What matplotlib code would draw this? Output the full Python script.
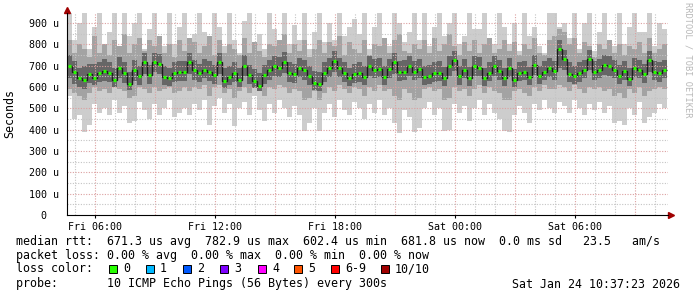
import matplotlib
matplotlib.use("Agg")
import matplotlib.pyplot as plt
from matplotlib.patches import Rectangle
import numpy as np

plt.rcParams["font.family"] = ["DejaVu Sans Mono"]

W, H = 697, 297

# time axis: hours since Fri 00:00, one column per 15 minutes
t_start = 4.6
t_step = 0.25

# median rtt per column (microseconds)
median_us = [
    700, 670, 640, 635, 660, 640, 665, 675, 668, 635,
    690, 665, 615, 678, 650, 718, 655, 715, 710, 645,
    640, 665, 670, 670, 715, 678, 665, 680, 672, 655,
    715, 630, 648, 664, 635, 700, 654, 630, 605, 655,
    678, 700, 690, 718, 665, 660, 690, 680, 650, 620,
    615, 665, 690, 722, 690, 665, 640, 660, 665, 648,
    700, 682, 685, 645, 685, 715, 670, 672, 700, 672,
    684, 648, 652, 665, 668, 640, 700, 725, 650, 680,
    640, 698, 690, 640, 668, 700, 675, 640, 690, 633,
    668, 670, 645, 705, 650, 672, 688, 675, 780, 730,
    662, 652, 664, 678, 730, 672, 680, 705, 700, 680,
    650, 675, 638, 690, 678, 660, 725, 672, 665, 678,
]

# smoke: outer range (fastest / slowest ping)
smoke_lo = [
    560, 450, 470, 390, 420, 520, 480, 500, 470, 540,
    480, 510, 430, 440, 530, 490, 450, 520, 470, 500,
    540, 460, 480, 500, 470, 520, 490, 540, 420, 510,
    550, 480, 520, 415, 500, 530, 470, 560, 490, 440,
    520, 480, 540, 500, 460, 510, 470, 395, 430, 500,
    395, 480, 520, 460, 540, 490, 470, 530, 500, 450,
    520, 480, 540, 470, 500, 430, 385, 490, 460, 390,
    410, 500, 530, 470, 500, 395, 400, 520, 480, 510,
    440, 500, 540, 470, 520, 480, 450, 395, 390, 470,
    510, 480, 430, 520, 490, 540, 500, 480, 530, 510,
    480, 540, 500, 470, 520, 490, 530, 480, 510, 430,
    440, 420, 500, 470, 530, 430, 460, 480, 520, 500,
]
smoke_hi = [
    950, 820, 900, 950, 780, 880, 950, 800, 860, 950,
    790, 950, 840, 900, 950, 780, 870, 950, 820, 790,
    950, 800, 880, 950, 830, 850, 950, 860, 800, 950,
    880, 790, 950, 820, 760, 910, 950, 800, 850, 780,
    950, 870, 800, 950, 800, 890, 820, 950, 780, 860,
    950, 810, 900, 820, 950, 840, 880, 920, 850, 950,
    780, 880, 950, 830, 790, 950, 900, 810, 860, 950,
    820, 950, 790, 880, 950, 840, 900, 950, 800, 840,
    950, 870, 870, 950, 820, 800, 950, 880, 800, 900,
    770, 950, 840, 880, 790, 760, 950, 950, 880, 900,
    830, 950, 780, 900, 950, 770, 860, 950, 820, 790,
    950, 800, 880, 950, 860, 860, 950, 790, 900, 870,
]

# smoke: middle pings
smoke_q1 = [
    590, 570, 560, 540, 570, 600, 580, 590, 570, 600,
    590, 580, 550, 560, 600, 590, 570, 600, 580, 590,
    600, 570, 580, 600, 580, 600, 590, 610, 560, 600,
    610, 570, 590, 550, 580, 600, 570, 610, 580, 560,
    600, 590, 610, 600, 570, 590, 580, 540, 550, 580,
    540, 570, 600, 580, 610, 590, 570, 600, 590, 560,
    600, 580, 610, 580, 590, 560, 540, 590, 570, 540,
    550, 590, 600, 580, 590, 540, 550, 600, 580, 590,
    560, 590, 610, 570, 600, 580, 570, 540, 540, 580,
    590, 570, 560, 600, 580, 610, 590, 590, 610, 600,
    580, 610, 590, 570, 600, 590, 600, 580, 590, 560,
    570, 550, 590, 570, 600, 560, 580, 590, 600, 590,
]
smoke_q3 = [
    820, 760, 800, 780, 740, 840, 760, 800, 750, 820,
    790, 850, 760, 800, 830, 770, 820, 790, 840, 760,
    800, 740, 820, 770, 830, 810, 760, 790, 840, 750,
    820, 760, 800, 780, 750, 830, 760, 810, 770, 740,
    800, 790, 820, 850, 760, 800, 770, 820, 740, 780,
    820, 760, 810, 790, 840, 750, 810, 780, 760, 820,
    750, 800, 790, 830, 760, 820, 850, 770, 760, 800,
    780, 820, 760, 830, 770, 800, 850, 790, 750, 810,
    770, 820, 760, 800, 830, 760, 780, 820, 770, 810,
    750, 800, 780, 830, 760, 750, 820, 840, 870, 860,
    800, 830, 760, 810, 790, 740, 800, 780, 820, 760,
    800, 750, 790, 780, 810, 760, 830, 760, 780, 800,
]

# smoke: pings closest to the median
smoke_c1 = [
    640, 615, 600, 590, 620, 610, 625, 630, 625, 600,
    640, 620, 585, 630, 610, 660, 615, 670, 660, 610,
    605, 625, 630, 630, 660, 635, 625, 640, 630, 615,
    660, 595, 610, 625, 600, 650, 615, 595, 580, 615,
    635, 650, 645, 665, 625, 620, 645, 635, 610, 585,
    580, 625, 645, 670, 645, 625, 605, 620, 625, 610,
    650, 640, 645, 610, 640, 660, 630, 635, 650, 635,
    640, 610, 615, 625, 630, 605, 650, 675, 610, 640,
    605, 650, 650, 605, 630, 650, 635, 605, 645, 600,
    630, 635, 610, 655, 615, 635, 645, 635, 690, 680,
    625, 615, 625, 640, 680, 635, 640, 655, 650, 640,
    615, 635, 605, 645, 640, 620, 670, 635, 625, 640,
]
smoke_c3 = [
    750, 720, 690, 700, 710, 710, 715, 730, 715, 690,
    740, 715, 670, 725, 700, 760, 705, 760, 755, 700,
    690, 715, 720, 720, 760, 725, 710, 730, 720, 705,
    760, 690, 700, 715, 690, 750, 705, 685, 665, 705,
    725, 745, 740, 765, 715, 710, 735, 725, 700, 675,
    670, 715, 735, 770, 735, 715, 690, 710, 715, 700,
    745, 730, 735, 700, 730, 760, 720, 725, 745, 720,
    730, 700, 705, 715, 720, 695, 745, 770, 700, 730,
    695, 745, 740, 690, 715, 745, 725, 690, 735, 685,
    715, 720, 695, 750, 700, 720, 735, 720, 820, 775,
    715, 700, 715, 725, 775, 720, 730, 750, 745, 725,
    705, 720, 690, 735, 725, 710, 770, 720, 715, 725,
]

x_ticks = [6, 12, 18, 24, 30]
x_labels = ["Fri 06:00", "Fri 12:00", "Fri 18:00", "Sat 00:00", "Sat 06:00"]
y_ticks = [0, 100, 200, 300, 400, 500, 600, 700, 800, 900]
y_labels = ["0  ", "100 u", "200 u", "300 u", "400 u", "500 u",
            "600 u", "700 u", "800 u", "900 u"]

loss_labels = ["0", "1", "2", "3", "4", "5", "6-9", "10/10"]
loss_colors = ["#26ff00", "#00b8ff", "#0059ff", "#7e00ff",
               "#ff00ff", "#ff5500", "#ff0000", "#a00000"]
loss_x = [109, 146, 183, 220, 258, 294, 331, 381]

legend_rtt = "median rtt:  671.3 us avg  782.9 us max  602.4 us min  681.8 us now  0.0 ms sd   23.5   am/s"
legend_loss = "packet loss: 0.00 % avg  0.00 % max  0.00 % min  0.00 % now"
legend_probe = "probe:       10 ICMP Echo Pings (56 Bytes) every 300s"
stamp = "Sat Jan 24 10:37:23 2026"


def fx(x):
    return x / W


def fy(y):
    return 1 - y / H


fig = plt.figure(figsize=(W / 100, H / 100), dpi=100)
fig.patch.set_facecolor("white")
ax = fig.add_axes([fx(67), fy(215), 601 / W, 202 / H])

t_end = t_start + 601 / 20
y_top = 947
ax.set_xlim(t_start, t_end)
ax.set_ylim(0, y_top)

edges = t_start + t_step * np.arange(len(median_us) + 1)
ax.stairs(smoke_hi, edges, baseline=smoke_lo, fill=True,
          facecolor="#cdcdcd", edgecolor="none", zorder=1)
ax.stairs(smoke_q3, edges, baseline=smoke_q1, fill=True,
          facecolor="#a3a3a3", edgecolor="none", zorder=1.1)
ax.stairs(smoke_c3, edges, baseline=smoke_c1, fill=True,
          facecolor="#666666", edgecolor="none", zorder=1.2)
ax.stairs(median_us, edges, baseline=None, color="#1c1c1c", lw=1.0, zorder=1.3)

# grid on top of the smoke, like rrdtool
for h in np.arange(5, 35):
    major = h % 3 == 0
    ax.axvline(h, color="#dca0a0" if major else "#c4c4c4", lw=0.8,
               ls=(0, (1, 1.4)), zorder=2)
for v in range(50, 950, 50):
    major = v % 100 == 0
    ax.axhline(v, color="#dca0a0" if major else "#c4c4c4", lw=0.8,
               ls=(0, (1, 1.4)), zorder=2)

ax.hlines(median_us, edges[:-1] + 0.03, edges[1:] - 0.03,
          color="#26ff00", lw=2.3, zorder=3)

for s in ["top", "right"]:
    ax.spines[s].set_visible(False)
for s in ["left", "bottom"]:
    ax.spines[s].set_color("black")
    ax.spines[s].set_linewidth(0.8)

# axis arrows
ax.plot([t_start, t_start], [y_top, 962], color="black", lw=0.8, clip_on=False)
ax.plot([t_start], [960], marker="^", color="#a00000", ms=4, clip_on=False)
ax.plot([t_end, t_end + 0.15], [0, 0], color="black", lw=0.8, clip_on=False)
ax.plot([t_end + 0.15], [0], marker=">", color="#a00000", ms=4, clip_on=False)

ax.set_xticks(x_ticks)
ax.set_xticklabels(x_labels, fontsize=7.2)
ax.set_yticks(y_ticks)
ax.set_yticklabels(y_labels, fontsize=7.2)
ax.tick_params(axis="x", length=2, pad=3, colors="black")
ax.tick_params(axis="y", length=0, pad=5.8)

fig.text(fx(10), fy(114), "Seconds", rotation=90, ha="center", va="center",
         fontsize=8.4)
fig.text(fx(688), fy(60), "RRDTOOL / TOBI OETIKER", rotation=270,
         ha="center", va="center", fontsize=6.2, color="#b8b8b8")

fs = 8.4
fig.text(fx(16), fy(241), legend_rtt, ha="left", va="center", fontsize=fs)
fig.text(fx(16), fy(256), legend_loss, ha="left", va="center", fontsize=fs)
fig.text(fx(16), fy(269), "loss color:", ha="left", va="center", fontsize=fs)
for x0, lab, col in zip(loss_x, loss_labels, loss_colors):
    fig.patches.append(Rectangle((fx(x0), fy(273)), 8 / W, 8 / H,
                                 transform=fig.transFigure, facecolor=col,
                                 edgecolor="black", lw=0.7))
    fig.text(fx(x0 + 14), fy(269), lab, ha="left", va="center", fontsize=fs)
fig.text(fx(16), fy(284), legend_probe, ha="left", va="center", fontsize=fs)
fig.text(fx(680), fy(284), stamp, ha="right", va="center", fontsize=fs)

fig.savefig("out.png", dpi=100, facecolor="white")
plt.close(fig)
